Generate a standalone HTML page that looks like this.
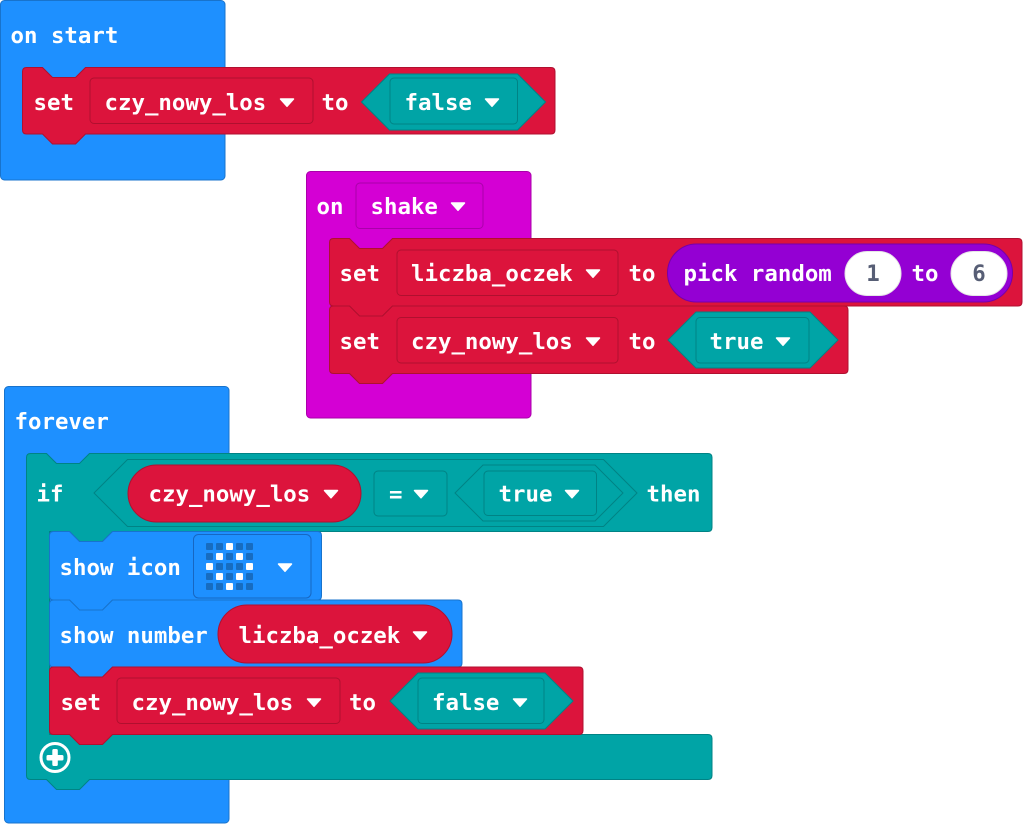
<!DOCTYPE html>
<html>
<head>
<meta charset="utf-8">
<style>
  html,body{margin:0;padding:0;background:#ffffff;}
  svg{display:block;}
  text{font-family:"DejaVu Sans Mono","Liberation Mono",monospace;font-weight:bold;font-size:22.4px;fill:#ffffff;}
  .num{fill:#575e75;}
  .blue{fill:#1e90ff;stroke:#1873cc;stroke-width:1;}
  .red{fill:#dc143c;stroke:#b0102f;stroke-width:1;}
  .teal{fill:#00a4a6;stroke:#008385;stroke-width:1;}
  .mag{fill:#d400d4;stroke:#aa00aa;stroke-width:1;}
  .pur{fill:#9400d3;stroke:#7600a8;stroke-width:1;}
  .arr{fill:#ffffff;stroke:#ffffff;stroke-width:1.5;stroke-linejoin:round;}
  .off{fill:#176cc0;}
  .on{fill:#ffffff;}
</style>
</head>
<body>
<svg width="1024" height="825" viewBox="0 0 1024 825" xmlns="http://www.w3.org/2000/svg">
  <defs>
    <path id="arrow" d="M-6.5,-3.5 L6.5,-3.5 L0,3.8 Z"/>
  </defs>

  <!-- ON START -->
  <rect class="blue" x="0.5" y="0.5" width="224.5" height="179.5" rx="4"/>
  <text x="10.5" y="43">on start</text>
  <path class="red" d="M22.5,71.5 Q22.5,67.5 26.5,67.5 H42.5 L52.5,77.5 H75.5 L85.5,67.5 H551 Q555,67.5 555,71.5 V130 Q555,134 551,134 H85.5 L75.5,144 H52.5 L42.5,134 H26.5 Q22.5,134 22.5,130 Z"/>
  <text x="33.5" y="110">set</text>
  <rect class="red" x="90" y="78" width="223" height="45.5" rx="4"/>
  <text x="104.5" y="110">czy_nowy_los</text>
  <use href="#arrow" class="arr" x="287" y="102.5"/>
  <text x="321.5" y="110">to</text>
  <polygon class="teal" points="361.5,102 389.5,74 517.5,74 545.5,102 517.5,130 389.5,130"/>
  <rect class="teal" x="390" y="78" width="127.5" height="46" rx="4"/>
  <text x="404.5" y="110">false</text>
  <use href="#arrow" class="arr" x="492" y="102.5"/>

  <!-- ON SHAKE -->
  <rect class="mag" x="306.5" y="171.5" width="224.5" height="246.5" rx="4"/>
  <text x="316.5" y="214">on</text>
  <rect class="mag" x="356" y="183" width="127" height="45.5" rx="4"/>
  <text x="370.5" y="214">shake</text>
  <use href="#arrow" class="arr" x="458" y="206.5"/>

  <path class="red" d="M329.5,242.5 Q329.5,238.5 333.5,238.5 H349.5 L359.5,248.5 H382.5 L392.5,238.5 H1018 Q1022,238.5 1022,242.5 V302 Q1022,306 1018,306 H392.5 L382.5,316 H359.5 L349.5,306 H333.5 Q329.5,306 329.5,302 Z"/>
  <text x="339.5" y="281">set</text>
  <rect class="red" x="397" y="250" width="221" height="45.5" rx="4"/>
  <text x="411" y="281">liczba_oczek</text>
  <use href="#arrow" class="arr" x="593" y="273.5"/>
  <text x="628.5" y="281">to</text>
  <rect class="pur" x="667.5" y="244" width="345" height="58" rx="29"/>
  <text x="683.5" y="281">pick random</text>
  <rect x="845" y="251.5" width="56" height="44" rx="22" fill="#ffffff" stroke="#e6e6e6" stroke-width="1"/>
  <text class="num" x="873" y="281" text-anchor="middle">1</text>
  <text x="911.5" y="281">to</text>
  <rect x="951" y="251.5" width="56" height="44" rx="22" fill="#ffffff" stroke="#e6e6e6" stroke-width="1"/>
  <text class="num" x="979" y="281" text-anchor="middle">6</text>

  <path class="red" d="M329.5,310 Q329.5,306 333.5,306 H349.5 L359.5,316 H382.5 L392.5,306 H844 Q848,306 848,310 V369.5 Q848,373.5 844,373.5 H392.5 L382.5,383.5 H359.5 L349.5,373.5 H333.5 Q329.5,373.5 329.5,369.5 Z"/>
  <text x="339.5" y="349">set</text>
  <rect class="red" x="397" y="317.5" width="221" height="45.5" rx="4"/>
  <text x="411" y="349">czy_nowy_los</text>
  <use href="#arrow" class="arr" x="593" y="341.5"/>
  <text x="628.5" y="349">to</text>
  <polygon class="teal" points="668,340 696,312 810,312 838,340 810,368 696,368"/>
  <rect class="teal" x="696" y="317.5" width="113" height="45.5" rx="4"/>
  <text x="709.5" y="349">true</text>
  <use href="#arrow" class="arr" x="783" y="341.5"/>

  <!-- FOREVER -->
  <rect class="blue" x="4.5" y="386.5" width="224.5" height="436.5" rx="4"/>
  <text x="14.5" y="429">forever</text>

  <!-- IF block -->
  <path class="teal" d="M26.5,457.5 Q26.5,453.5 30.5,453.5 H46.5 L56.5,463.5 H79.5 L89.5,453.5 H708 Q712,453.5 712,457.5 V527.5 Q712,531.5 708,531.5 H112.5 L102.5,541.5 H79.5 L69.5,531.5 H49.5 V734.5 H708 Q712,734.5 712,738.5 V775.5 Q712,779.5 708,779.5 H89.5 L79.5,789.5 H56.5 L46.5,779.5 H30.5 Q26.5,779.5 26.5,775.5 Z"/>
  <text x="36.5" y="501.5">if</text>
  <polygon class="teal" points="94,493 127.5,459.5 603.5,459.5 637,493 603.5,526.5 127.5,526.5"/>
  <rect class="red" x="128" y="465" width="233" height="57" rx="28.5"/>
  <text x="148.5" y="501.5">czy_nowy_los</text>
  <use href="#arrow" class="arr" x="331" y="494"/>
  <rect class="teal" x="374" y="471" width="73" height="45" rx="4"/>
  <text x="389" y="501.5">=</text>
  <use href="#arrow" class="arr" x="421" y="494"/>
  <polygon class="teal" points="455,493 483,465 595,465 623,493 595,521 483,521"/>
  <rect class="teal" x="484" y="471" width="112.5" height="44.5" rx="4"/>
  <text x="498.5" y="501.5">true</text>
  <use href="#arrow" class="arr" x="572" y="494"/>
  <text x="646.5" y="501.5">then</text>

  <!-- show icon -->
  <path class="blue" d="M49.5,535.5 Q49.5,531.5 53.5,531.5 H69.5 L79.5,541.5 H102.5 L112.5,531.5 H317.5 Q321.5,531.5 321.5,535.5 V596 Q321.5,600 317.5,600 H112.5 L102.5,610 H79.5 L69.5,600 H53.5 Q49.5,600 49.5,596 Z"/>
  <text x="59.5" y="575">show icon</text>
  <rect class="blue" x="193.5" y="534.5" width="117.5" height="63.5" rx="5" style="stroke:#1767c2"/>
  <g>
    <rect class="off" x="206" y="543" width="7" height="7" rx="1"/>
    <rect class="off" x="216" y="543" width="7" height="7" rx="1"/>
    <rect class="on"  x="226" y="543" width="7" height="7" rx="1"/>
    <rect class="off" x="236" y="543" width="7" height="7" rx="1"/>
    <rect class="off" x="246" y="543" width="7" height="7" rx="1"/>

    <rect class="off" x="206" y="553" width="7" height="7" rx="1"/>
    <rect class="on"  x="216" y="553" width="7" height="7" rx="1"/>
    <rect class="off" x="226" y="553" width="7" height="7" rx="1"/>
    <rect class="on"  x="236" y="553" width="7" height="7" rx="1"/>
    <rect class="off" x="246" y="553" width="7" height="7" rx="1"/>

    <rect class="on"  x="206" y="563" width="7" height="7" rx="1"/>
    <rect class="off" x="216" y="563" width="7" height="7" rx="1"/>
    <rect class="off" x="226" y="563" width="7" height="7" rx="1"/>
    <rect class="off" x="236" y="563" width="7" height="7" rx="1"/>
    <rect class="on"  x="246" y="563" width="7" height="7" rx="1"/>

    <rect class="off" x="206" y="573" width="7" height="7" rx="1"/>
    <rect class="on"  x="216" y="573" width="7" height="7" rx="1"/>
    <rect class="off" x="226" y="573" width="7" height="7" rx="1"/>
    <rect class="on"  x="236" y="573" width="7" height="7" rx="1"/>
    <rect class="off" x="246" y="573" width="7" height="7" rx="1"/>

    <rect class="off" x="206" y="583" width="7" height="7" rx="1"/>
    <rect class="off" x="216" y="583" width="7" height="7" rx="1"/>
    <rect class="on"  x="226" y="583" width="7" height="7" rx="1"/>
    <rect class="off" x="236" y="583" width="7" height="7" rx="1"/>
    <rect class="off" x="246" y="583" width="7" height="7" rx="1"/>
  </g>
  <use href="#arrow" class="arr" x="285" y="567.5"/>

  <!-- show number -->
  <path class="blue" d="M49.5,604 Q49.5,600 53.5,600 H69.5 L79.5,610 H102.5 L112.5,600 H458 Q462,600 462,604 V663 Q462,667 458,667 H112.5 L102.5,677 H79.5 L69.5,667 H53.5 Q49.5,667 49.5,663 Z"/>
  <text x="59.5" y="643">show number</text>
  <rect class="red" x="218" y="605" width="234" height="58" rx="29"/>
  <text x="238.5" y="643">liczba_oczek</text>
  <use href="#arrow" class="arr" x="420" y="635.5"/>

  <!-- set (forever) -->
  <path class="red" d="M49.5,671 Q49.5,667 53.5,667 H69.5 L79.5,677 H102.5 L112.5,667 H579 Q583,667 583,671 V730.5 Q583,734.5 579,734.5 H112.5 L102.5,744.5 H79.5 L69.5,734.5 H53.5 Q49.5,734.5 49.5,730.5 Z"/>
  <text x="60.5" y="710">set</text>
  <rect class="red" x="117" y="678" width="223" height="45.5" rx="4"/>
  <text x="131.5" y="710">czy_nowy_los</text>
  <use href="#arrow" class="arr" x="314" y="702.5"/>
  <text x="349" y="710">to</text>
  <polygon class="teal" points="390,701 418,673 545,673 573,701 545,729 418,729"/>
  <rect class="teal" x="418" y="678" width="126" height="45.5" rx="4"/>
  <text x="432" y="710">false</text>
  <use href="#arrow" class="arr" x="520" y="702.5"/>

  <!-- plus icon -->
  <circle cx="55" cy="757.5" r="14" fill="none" stroke="#ffffff" stroke-width="3"/>
  <rect x="46.5" y="755" width="17" height="5.5" rx="1.5" fill="#ffffff"/>
  <rect x="52.3" y="749" width="5.5" height="17" rx="1.5" fill="#ffffff"/>
</svg>
</body>
</html>
